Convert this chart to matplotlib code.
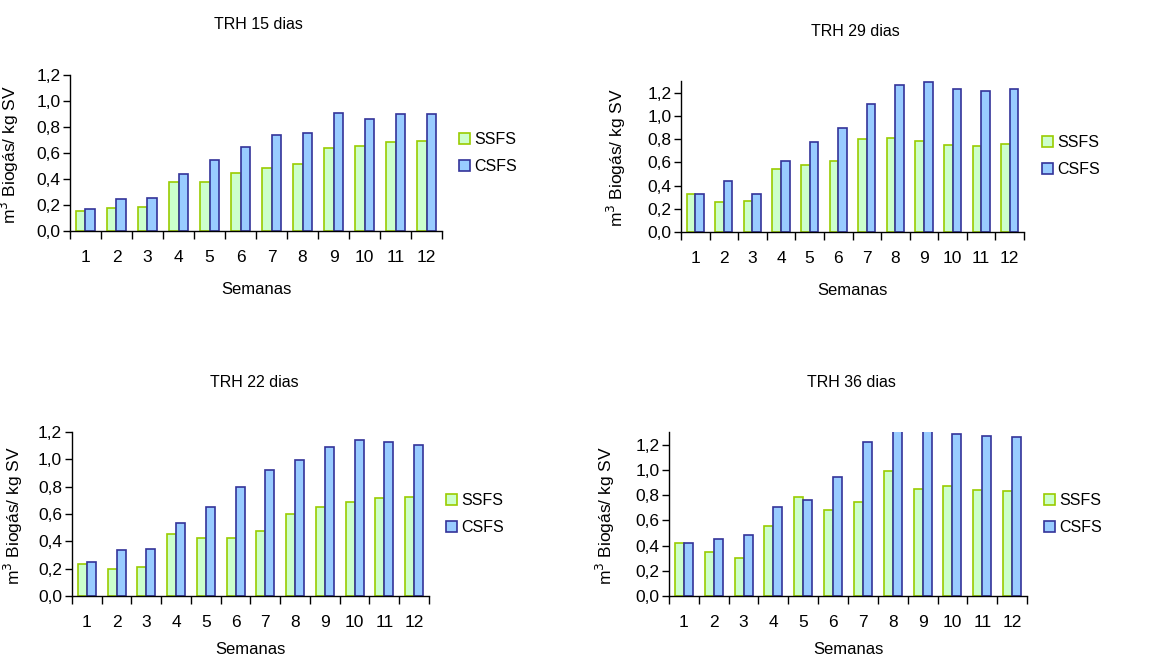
import matplotlib
matplotlib.use('Agg')
import matplotlib.pyplot as plt
import numpy as np

plt.rcParams['font.family'] = ['Liberation Sans', 'DejaVu Sans']

# weeks
semanas = [str(i) for i in range(1, 13)]
series_names = ['SSFS', 'CSFS']

# TRH 15 dias
ssfs_15 = [0.156, 0.174, 0.187, 0.379, 0.377, 0.449, 0.482, 0.518, 0.641, 0.651, 0.682, 0.692]
csfs_15 = [0.172, 0.249, 0.256, 0.441, 0.549, 0.646, 0.738, 0.751, 0.905, 0.864, 0.903, 0.903]
# TRH 29 dias
ssfs_29 = [0.331, 0.257, 0.271, 0.543, 0.577, 0.614, 0.800, 0.806, 0.786, 0.749, 0.737, 0.754]
csfs_29 = [0.331, 0.443, 0.331, 0.609, 0.777, 0.897, 1.100, 1.269, 1.291, 1.234, 1.214, 1.231]
# TRH 22 dias
ssfs_22 = [0.232, 0.196, 0.215, 0.450, 0.425, 0.425, 0.479, 0.599, 0.650, 0.684, 0.716, 0.723]
csfs_22 = [0.247, 0.340, 0.345, 0.535, 0.650, 0.797, 0.924, 0.995, 1.090, 1.144, 1.129, 1.107]
# TRH 36 dias (weeks 8 and 9 of CSFS run past the top of the axis)
ssfs_36 = [0.420, 0.346, 0.301, 0.555, 0.785, 0.685, 0.743, 0.991, 0.849, 0.872, 0.838, 0.830]
csfs_36 = [0.418, 0.449, 0.484, 0.706, 0.761, 0.944, 1.219, 1.380, 1.400, 1.282, 1.269, 1.261]

y_ticks = [0.0, 0.2, 0.4, 0.6, 0.8, 1.0, 1.2]
y_ticklabels = ['0,0', '0,2', '0,4', '0,6', '0,8', '1,0', '1,2']

TICK_FS = 12.5
TEXT_FS = 11.5
YLAB_FS = 12.5
GREEN_FILL, GREEN_EDGE = '#CCFFCC', '#99CC00'
BLUE_FILL, BLUE_EDGE = '#99CCFF', '#333399'

fig = plt.figure(figsize=(11.55, 6.6), dpi=100)

panels = [
    # title, ssfs, csfs, axes rect, ymax, title pos, ylabel x, legend x, xlabel offset px
    ('TRH 15 dias', ssfs_15, csfs_15, [0.0606, 0.65, 0.3221, 0.2364], 1.2, (0.2234, 0.9636), -0.132, 1.046, 59),
    ('TRH 29 dias', ssfs_29, csfs_29, [0.5896, 0.6485, 0.2970, 0.2288], 1.3, (0.7403, 0.953), -0.155, 1.052, 59),
    ('TRH 22 dias', ssfs_22, csfs_22, [0.0623, 0.097, 0.3091, 0.2485], 1.2, (0.2200, 0.4212), -0.132, 1.048, 54),
    ('TRH 36 dias', ssfs_36, csfs_36, [0.5792, 0.097, 0.3100, 0.2485], 1.3, (0.7368, 0.4212), -0.145, 1.047, 54),
]

x = np.arange(1, 13)
w = 0.3
for title, ss, cs, rect, ymax, tpos, ylx, lgx, xlo in panels:
    ax = fig.add_axes(rect)
    ax.bar(x - w / 2, ss, w, color=GREEN_FILL, edgecolor=GREEN_EDGE, linewidth=1.2, label=series_names[0])
    ax.bar(x + w / 2, cs, w, color=BLUE_FILL, edgecolor=BLUE_EDGE, linewidth=1.2, label=series_names[1])
    ax.set_xlim(0.5, 12.5)
    ax.set_ylim(0, ymax)
    for s in ['top', 'right']:
        ax.spines[s].set_visible(False)
    for s in ['left', 'bottom']:
        ax.spines[s].set_linewidth(1.0)
    ax.set_yticks(y_ticks)
    ax.set_yticklabels(y_ticklabels, fontsize=TICK_FS)
    ax.tick_params(axis='y', length=5, width=1.0, pad=2)
    # category separators as major ticks, labels on minor ticks
    ax.set_xticks(np.arange(0.5, 13, 1.0))
    ax.set_xticklabels([])
    ax.tick_params(axis='x', which='major', length=6, width=1.0)
    ax.set_xticks(x, minor=True)
    ax.set_xticklabels(semanas, minor=True, fontsize=TICK_FS)
    ax.tick_params(axis='x', which='minor', length=0, pad=14)
    ax.set_ylabel('m$^3$ Biogás/ kg SV', fontsize=YLAB_FS)
    ax.yaxis.set_label_coords(ylx, 0.49)
    ax.set_xlabel('Semanas', fontsize=12, va='center')
    h_px = rect[3] * 660
    ax.xaxis.set_label_coords(0.5, -xlo / h_px)
    fig.text(tpos[0], tpos[1], title, fontsize=TEXT_FS, ha='center', va='center')
    ax.legend(loc='center left', bbox_to_anchor=(lgx, 0.5), frameon=False, fontsize=TEXT_FS,
              handlelength=0.7, handleheight=0.7, handletextpad=0.25, labelspacing=0.75,
              borderpad=0, borderaxespad=0)

fig.savefig('out.png', dpi=100)
